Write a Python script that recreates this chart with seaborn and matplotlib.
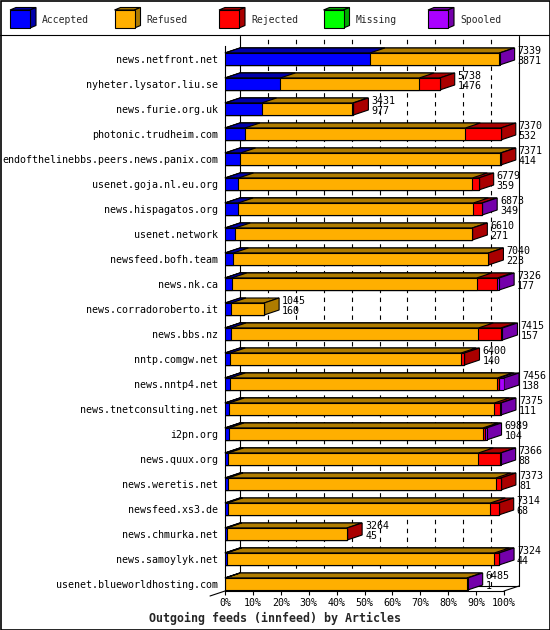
import pandas as pd
import seaborn as sns
import matplotlib.pyplot as plt
from matplotlib.patches import Polygon, Rectangle
from matplotlib.lines import Line2D
from matplotlib.transforms import IdentityTransform

# Datos (articulos por feed)
hosts = ['news.netfront.net', 'nyheter.lysator.liu.se', 'news.furie.org.uk',
         'photonic.trudheim.com', 'endofthelinebbs.peers.news.panix.com',
         'usenet.goja.nl.eu.org', 'news.hispagatos.org', 'usenet.network',
         'newsfeed.bofh.team', 'news.nk.ca', 'news.corradoroberto.it',
         'news.bbs.nz', 'nntp.comgw.net', 'news.nntp4.net',
         'news.tnetconsulting.net', 'i2pn.org', 'news.quux.org',
         'news.weretis.net', 'newsfeed.xs3.de', 'news.chmurka.net',
         'news.samoylyk.net', 'usenet.blueworldhosting.com']
totals = [7339, 5738, 3431, 7370, 7371, 6779, 6873, 6610, 7040, 7326, 1045,
          7415, 6400, 7456, 7375, 6989, 7366, 7373, 7314, 3264, 7324, 6485]
accepted = [3871, 1476, 977, 532, 414, 359, 349, 271, 223, 177, 160,
            157, 140, 138, 111, 104, 88, 81, 68, 45, 44, 1]
refused = [3453, 3712, 2430, 5890, 6940, 6249, 6286, 6329, 6813, 6548, 885,
           6612, 6166, 7139, 7085, 6782, 6681, 7152, 7021, 3207, 7152, 6457]
rejected = [0, 550, 24, 948, 17, 171, 224, 10, 4, 551, 0,
            597, 94, 53, 152, 70, 592, 140, 225, 12, 118, 0]
missing = [0, 0, 0, 0, 0, 0, 0, 0, 0, 0, 0,
           0, 0, 0, 0, 0, 0, 0, 0, 0, 0, 0]
spooled = [15, 0, 0, 0, 0, 0, 14, 0, 0, 50, 0,
           49, 0, 126, 27, 33, 5, 0, 0, 0, 10, 27]

series = ['Accepted', 'Refused', 'Rejected', 'Missing', 'Spooled']
front_colors = ['#0000FF', '#FFAF00', '#FF0000', '#00FF00', '#AA00FF']
dark_colors = ['#0000AA', '#AF7C00', '#AA0000', '#00AA00', '#7400AA']

df = pd.DataFrame({'host': hosts, 'Accepted': accepted, 'Refused': refused,
                   'Rejected': rejected, 'Missing': missing, 'Spooled': spooled})
escala = 100 / df[series].sum(axis=1).max()
cum = df[series].cumsum(axis=1) * escala

sns.set_theme(style='white')
plt.rcParams['font.family'] = ['DejaVu Sans Mono']

W, H = 550, 630
fig = plt.figure(figsize=(5.5, 6.3), dpi=100)
ax = fig.add_axes([225 / W, (H - 591) / H, (504 - 225) / W, 550 / H])

# barras frontales apiladas (de la mas larga a la mas corta)
for k in reversed(range(len(series))):
    sns.barplot(x=cum[series[k]], y=df['host'], orient='h', color=front_colors[k],
                saturation=1, edgecolor='black', linewidth=0.8, width=0.48,
                errorbar=None, ax=ax, zorder=3)

n = len(hosts)
ax.set_xlim(0, 100)
ax.set_ylim(n - 0.72, -0.72)
ax.set_xlabel('')
ax.set_ylabel('')
ax.set_xticks(range(0, 101, 10))
ax.set_xticklabels([f'{t}%' for t in range(0, 101, 10)])
ax.tick_params(axis='x', bottom=True, length=3, width=0.8, pad=2,
               labelsize=7.2, colors='black')
ax.tick_params(axis='y', length=0, pad=5, labelsize=7.2, colors='black')
for s in ['top', 'right']:
    ax.spines[s].set_visible(False)
for s in ['left', 'bottom']:
    ax.spines[s].set_color('black')
    ax.spines[s].set_linewidth(0.8)
ax.spines['left'].set_bounds(n - 0.72, -0.52)
ax.grid(False)

# efecto 3D
T = ax.transData.transform
ident = IdentityTransform()
dx, dy = 15, 5
half = 0.24
x0 = T((0, 0))[0]
x100 = T((100, 0))[0]
floor = T((0, n - 0.72))[1]
top = T((0, -0.72))[1] + dy

# pared del fondo
for p in range(0, 101, 10):
    xp = T((p, 0))[0] + dx
    ls = '-' if p in (0, 100) else (0, (4, 4))
    ax.add_artist(Line2D([xp, xp], [floor + dy, top], color='black', lw=0.8,
                         ls=ls, transform=ident, zorder=1, clip_on=False))
ax.add_artist(Line2D([x0 + dx, x100 + dx], [floor + dy, floor + dy], color='black',
                     lw=0.8, transform=ident, zorder=1, clip_on=False))
ax.add_artist(Line2D([x100, x100 + dx], [floor, floor + dy], color='black',
                     lw=0.8, transform=ident, zorder=1, clip_on=False))
ax.add_artist(Line2D([x0, x0 - dx], [floor, floor - dy], color='black',
                     lw=0.8, transform=ident, zorder=1, clip_on=False))

for i in range(n):
    yt = T((0, i - half))[1]
    yb = T((0, i + half))[1]
    vals = df.loc[i, series].values
    for k in reversed(range(len(series))):
        if vals[k] <= 0:
            continue
        xk = T((cum.iloc[i, k], 0))[0]
        ax.add_patch(Polygon([(x0, yt), (xk, yt), (xk + dx, yt + dy), (x0 + dx, yt + dy)],
                             closed=True, fc=dark_colors[k], ec='black', lw=0.8,
                             transform=ident, zorder=2, clip_on=False))
    last = max(k for k in range(len(series)) if vals[k] > 0)
    xt = T((cum.iloc[i, -1], 0))[0]
    ax.add_patch(Polygon([(xt, yt), (xt + dx, yt + dy), (xt + dx, yb + dy), (xt, yb)],
                         closed=True, fc=dark_colors[last], ec='black', lw=0.8,
                         transform=ident, zorder=2.5, clip_on=False))
    ax.annotate(str(totals[i]), xy=(cum.iloc[i, -1], i), xytext=(18, 8),
                textcoords='offset pixels', ha='left', va='center', fontsize=7.2,
                color='black', zorder=4)
    ax.annotate(str(accepted[i]), xy=(cum.iloc[i, -1], i), xytext=(18, -2.5),
                textcoords='offset pixels', ha='left', va='center', fontsize=7.2,
                color='black', zorder=4)

# leyenda con cajitas 3D
for j, name in enumerate(series):
    lx = 10 + 104.5 * j
    yb_l, yt_l = H - 28, H - 10
    fig.add_artist(Polygon([(lx, yt_l), (lx + 20, yt_l), (lx + 26, yt_l + 2.5), (lx + 6, yt_l + 2.5)],
                           closed=True, fc=dark_colors[j], ec='black', lw=0.8, transform=ident))
    fig.add_artist(Polygon([(lx + 20, yb_l), (lx + 26, yb_l + 2.5), (lx + 26, yt_l + 2.5), (lx + 20, yt_l)],
                           closed=True, fc=dark_colors[j], ec='black', lw=0.8, transform=ident))
    fig.add_artist(Rectangle((lx, yb_l), 20, 18, fc=front_colors[j], ec='black',
                             lw=0.8, transform=ident))
    fig.text((lx + 32) / W, (H - 20) / H, name, ha='left', va='center', fontsize=7)

fig.add_artist(Line2D([0, W], [H - 35, H - 35], color='black', lw=0.8, transform=ident))
fig.add_artist(Rectangle((0.5, 0.5), W - 1, H - 1, fill=False, ec='black', lw=1.2,
                         transform=ident))

fig.text(275 / W, (H - 618) / H, 'Outgoing feeds (innfeed) by Articles', ha='center',
         va='center', fontsize=8.4, fontweight='bold')

fig.savefig('out.png', dpi=100)
